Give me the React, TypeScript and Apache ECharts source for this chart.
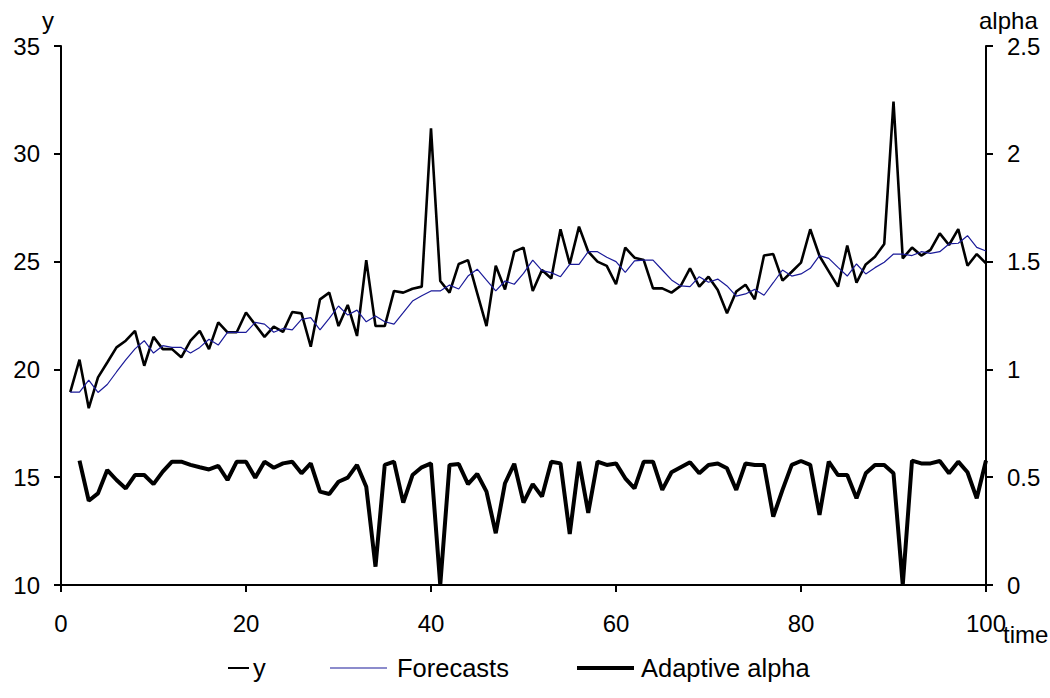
import React, { useEffect, useRef } from "react";
import * as echarts from "echarts";

const timeIndex: number[] = Array.from({ length: 100 }, (_, i) => i + 1);

const yValues: number[] = [
  18.95, 20.45, 18.2, 19.63, 20.32, 21.02, 21.33, 21.79, 20.17, 21.51,
  20.94, 20.94, 20.56, 21.33, 21.79, 20.94, 22.18, 21.72, 21.72, 22.64,
  22.07, 21.51, 21.98, 21.74, 22.66, 22.6, 21.05, 23.25, 23.56, 22.01,
  22.99, 21.55, 25.07, 22.01, 22.01, 23.64, 23.56, 23.74, 23.84, 31.18,
  24.1, 23.56, 24.89, 25.07, 23.53, 22.01, 24.81, 23.71, 25.46, 25.65,
  23.64, 24.61, 24.22, 26.5, 24.89, 26.62, 25.46, 25.0, 24.8, 23.95,
  25.65, 25.18, 25.07, 23.76, 23.76, 23.56, 23.88, 24.69, 23.84, 24.3,
  23.68, 22.6, 23.61, 23.93, 23.25, 25.28, 25.35, 24.12, 24.53, 24.95,
  26.5, 25.26, 24.55, 23.84, 25.74, 24.02, 24.87, 25.23, 25.82, 32.42,
  25.15, 25.65, 25.28, 25.54, 26.31, 25.77, 26.51, 24.81, 25.35, 24.92,
];

const forecasts: number[] = [
  18.95, 18.95, 19.5, 18.93, 19.3, 19.88, 20.44, 20.95, 21.33, 20.76,
  21.1, 21.02, 21.02, 20.76, 21.02, 21.4, 21.13, 21.72, 21.72, 21.72,
  22.18, 22.1, 21.72, 21.9, 21.83, 22.32, 22.4, 21.83, 22.37, 22.94,
  22.52, 22.75, 22.21, 22.48, 22.21, 22.1, 22.63, 23.17, 23.42, 23.64,
  23.64, 23.91, 23.73, 24.33, 24.65, 24.14, 23.64, 24.1, 23.95, 24.45,
  25.07, 24.58, 24.49, 24.3, 24.87, 24.87, 25.46, 25.46, 25.2, 25.0,
  24.5, 25.03, 25.07, 25.07, 24.61, 24.15, 23.87, 23.84, 24.3, 24.04,
  24.19, 23.87, 23.4, 23.5, 23.71, 23.44, 24.02, 24.61, 24.33, 24.43,
  24.69, 25.28, 25.15, 24.73, 24.33, 24.89, 24.43, 24.72, 24.97, 25.35,
  25.35, 25.28, 25.46, 25.38, 25.46, 25.82, 25.85, 26.2, 25.66, 25.49,
];

const adaptiveAlpha: (number | null)[] = [
  null, 0.577, 0.391, 0.425, 0.533, 0.487, 0.448, 0.51, 0.51, 0.468,
  0.526, 0.572, 0.572, 0.557, 0.546, 0.536, 0.553, 0.487, 0.572, 0.572,
  0.498, 0.572, 0.544, 0.564, 0.572, 0.518, 0.564, 0.433, 0.422, 0.479,
  0.498, 0.557, 0.456, 0.085, 0.557, 0.572, 0.382, 0.51, 0.546, 0.564,
  0.0, 0.557, 0.561, 0.468, 0.515, 0.433, 0.24, 0.472, 0.562, 0.382,
  0.468, 0.41, 0.572, 0.564, 0.237, 0.572, 0.335, 0.572, 0.557, 0.564,
  0.495, 0.448, 0.572, 0.572, 0.441, 0.523, 0.546, 0.569, 0.518, 0.557,
  0.564, 0.541, 0.441, 0.564, 0.557, 0.557, 0.317, 0.441, 0.557, 0.575,
  0.557, 0.325, 0.572, 0.51, 0.51, 0.402, 0.518, 0.557, 0.557, 0.518,
  0.0, 0.577, 0.564, 0.564, 0.575, 0.518, 0.572, 0.523, 0.402, 0.577,
];

const FONT = "'Liberation Sans', Arial, sans-serif";
const FS = 24;
const LFS = 25.5;

export default function App() {
  const ref = useRef<HTMLDivElement>(null);
  useEffect(() => {
    if (!ref.current) return;
    const chart = echarts.init(ref.current, undefined, { renderer: "svg" });
    const pair = (arr: (number | null)[]) =>
      timeIndex.map((t, i) => [t, arr[i] === null ? "-" : arr[i]]);
    const axisLineStyle = { color: "#000", width: 2 };
    const labelStyle = { fontSize: FS, color: "#000", fontFamily: FONT };
    const legendText = { fontSize: LFS, color: "#000", fontFamily: FONT, lineHeight: 26 };
    chart.setOption({
      animation: false,
      backgroundColor: "#fff",
      textStyle: { fontFamily: FONT },
      grid: { left: 61, right: 64, top: 46, bottom: 113, containLabel: false },
      xAxis: {
        type: "value",
        min: 0,
        max: 100,
        interval: 20,
        axisLine: { show: true, lineStyle: axisLineStyle },
        axisTick: { show: true, length: 7, lineStyle: axisLineStyle },
        axisLabel: { ...labelStyle, margin: 26 },
        splitLine: { show: false },
      },
      yAxis: [
        {
          type: "value",
          min: 10,
          max: 35,
          interval: 5,
          position: "left",
          axisLine: { show: true, lineStyle: axisLineStyle },
          axisTick: { show: true, length: 7, lineStyle: axisLineStyle },
          axisLabel: { ...labelStyle, margin: 21 },
          splitLine: { show: false },
        },
        {
          type: "value",
          min: 0,
          max: 2.5,
          interval: 0.5,
          position: "right",
          axisLine: { show: true, lineStyle: axisLineStyle },
          axisTick: { show: true, length: 7, lineStyle: axisLineStyle },
          axisLabel: { ...labelStyle, margin: 21 },
          splitLine: { show: false },
        },
      ],
      legend: [
        {
          data: ["y"],
          left: 228,
          top: 655,
          padding: 0,
          icon: "rect",
          itemWidth: 21,
          itemHeight: 2,
          itemStyle: { color: "#000" },
          textStyle: { ...legendText, padding: [0, 0, 0, -1] },
        },
        {
          data: ["Forecasts"],
          left: 330,
          top: 655,
          padding: 0,
          icon: "rect",
          itemWidth: 57,
          itemHeight: 1.2,
          itemStyle: { color: "#1a1a99" },
          textStyle: { ...legendText, padding: [0, 0, 0, 5] },
        },
        {
          data: ["Adaptive alpha"],
          left: 577,
          top: 655,
          padding: 0,
          icon: "rect",
          itemWidth: 57,
          itemHeight: 4,
          itemStyle: { color: "#000" },
          textStyle: { ...legendText, padding: [0, 0, 0, 2] },
        },
      ],
      graphic: [
        { type: "text", left: 42, top: 8, style: { text: "y", font: `${FS}px ${FONT}`, fill: "#000" } },
        { type: "text", left: 979, top: 8, style: { text: "alpha", font: `${FS}px ${FONT}`, fill: "#000" } },
        { type: "text", left: 1003, top: 622, style: { text: "time", font: `${FS}px ${FONT}`, fill: "#000" } },
      ],
      series: [
        {
          name: "y",
          type: "line",
          yAxisIndex: 0,
          data: pair(yValues),
          symbol: "none",
          lineStyle: { color: "#000", width: 2.6 },
          itemStyle: { color: "#000" },
        },
        {
          name: "Forecasts",
          type: "line",
          yAxisIndex: 0,
          data: pair(forecasts),
          symbol: "none",
          lineStyle: { color: "#1a1a99", width: 1.2 },
          itemStyle: { color: "#1a1a99" },
        },
        {
          name: "Adaptive alpha",
          type: "line",
          yAxisIndex: 1,
          data: pair(adaptiveAlpha),
          symbol: "none",
          lineStyle: { color: "#000", width: 4 },
          itemStyle: { color: "#000" },
        },
      ],
    });
    return () => chart.dispose();
  }, []);
  return (
    <div
      ref={ref}
      style={{ position: "fixed", left: 0, top: 0, width: 1050, height: 698, background: "#fff" }}
    />
  );
}
